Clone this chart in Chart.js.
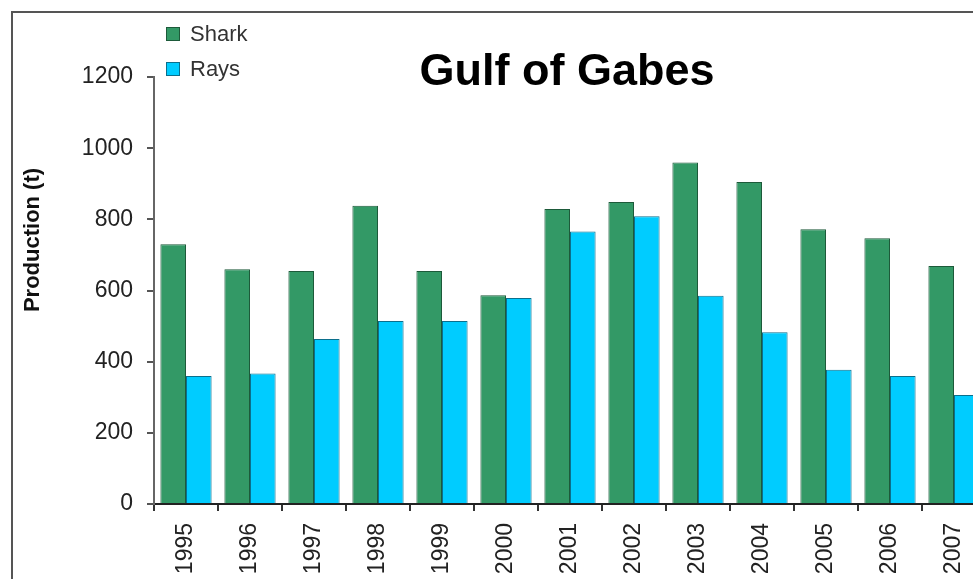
<!DOCTYPE html>
<html>
<head>
<meta charset="utf-8">
<script src="https://cdn.jsdelivr.net/npm/chart.js@4.4.1/dist/chart.umd.min.js"></script>
<style>
  html, body { margin: 0; padding: 0; background: #fff; overflow: hidden; }
  body { width: 973px; height: 579px; position: relative; }
  #frame {
    position: absolute; left: 11px; top: 11px;
    width: 1100px; height: 1000px;
    border: 2px solid #555; box-sizing: border-box;
  }
  #wrap { position: absolute; left: 0; top: 0; width: 1000px; height: 600px; }
</style>
</head>
<body>
<div id="frame"></div>
<div id="wrap"><canvas id="gabesChart" width="1000" height="600"></canvas></div>
<script>
const years = ['1995', '1996', '1997', '1998', '1999', '2000', '2001', '2002', '2003', '2004', '2005', '2006', '2007'];
const shark = [730, 660, 655, 838, 655, 587, 829, 849, 960, 905, 772, 747, 669];
const rays = [360, 367, 464, 514, 514, 579, 766, 809, 585, 483, 377, 360, 306];
const yTicks = [0, 200, 400, 600, 800, 1000, 1200];
const chartTitle = 'Gulf of Gabes';
const yTitle = 'Production (t)';

const FONT = '"Liberation Sans", Arial, sans-serif';

// title, legend and y title drawn by hand to sit where the original has them
const decor = {
  id: 'decor',
  afterDraw(chart) {
    const ctx = chart.ctx;
    ctx.save();
    ctx.fillStyle = '#000';
    ctx.font = 'bold 45px ' + FONT;
    ctx.textAlign = 'center';
    ctx.textBaseline = 'alphabetic';
    ctx.fillText(chartTitle, 567, 85);

    ctx.translate(33, 240);
    ctx.rotate(-Math.PI / 2);
    ctx.font = 'bold 22px ' + FONT;
    ctx.textBaseline = 'middle';
    ctx.fillStyle = '#111';
    ctx.fillText(yTitle, 0, 0);
    ctx.setTransform(1, 0, 0, 1, 0, 0);

    const rows = [34, 69];
    chart.data.datasets.forEach((ds, i) => {
      const y = rows[i];
      ctx.fillStyle = ds.backgroundColor;
      ctx.fillRect(166, y - 7, 14, 14);
      ctx.strokeStyle = ds.borderColor;
      ctx.lineWidth = 1;
      ctx.strokeRect(166.5, y - 6.5, 13, 13);
      ctx.fillStyle = '#333';
      ctx.font = '22px ' + FONT;
      ctx.textAlign = 'left';
      ctx.textBaseline = 'middle';
      ctx.fillText(ds.label, 190, y + 1);
    });
    ctx.restore();
  }
};

new Chart(document.getElementById('gabesChart').getContext('2d'), {
  type: 'bar',
  data: {
    labels: years,
    datasets: [{
      label: 'Shark',
      data: shark,
      backgroundColor: '#339966',
      borderColor: '#1d5a3a',
      borderWidth: 1,
      categoryPercentage: 0.8,
      barPercentage: 1.0
    }, {
      label: 'Rays',
      data: rays,
      backgroundColor: '#00ccff',
      borderColor: '#0b6f8c',
      borderWidth: 1,
      categoryPercentage: 0.8,
      barPercentage: 1.0
    }]
  },
  options: {
    responsive: false,
    animation: false,
    layout: { padding: { left: 0, right: 14, top: 77, bottom: 0 } },
    scales: {
      x: {
        afterFit: scale => { scale.height = 96; },
        ticks: {
          color: '#222',
          minRotation: 90,
          maxRotation: 90,
          padding: 12,
          font: { family: FONT, size: 23 }
        },
        grid: {
          drawOnChartArea: false,
          drawTicks: true,
          tickLength: 7,
          color: '#333',
          lineWidth: 2
        },
        border: { display: true, color: '#222', width: 2 }
      },
      y: {
        min: 0,
        max: 1200,
        afterFit: scale => { scale.width = 154; },
        afterBuildTicks: scale => { scale.ticks = yTicks.map(v => ({ value: v })); },
        ticks: {
          color: '#222',
          padding: 14,
          callback: value => String(value),
          font: { family: FONT, size: 23 }
        },
        grid: {
          drawOnChartArea: false,
          drawTicks: true,
          tickLength: 7,
          color: '#555',
          lineWidth: 2
        },
        border: { display: true, color: '#666', width: 2 }
      }
    },
    plugins: {
      legend: { display: false },
      title: { display: false },
      tooltip: { enabled: false }
    }
  },
  plugins: [decor]
});
</script>
</body>
</html>
